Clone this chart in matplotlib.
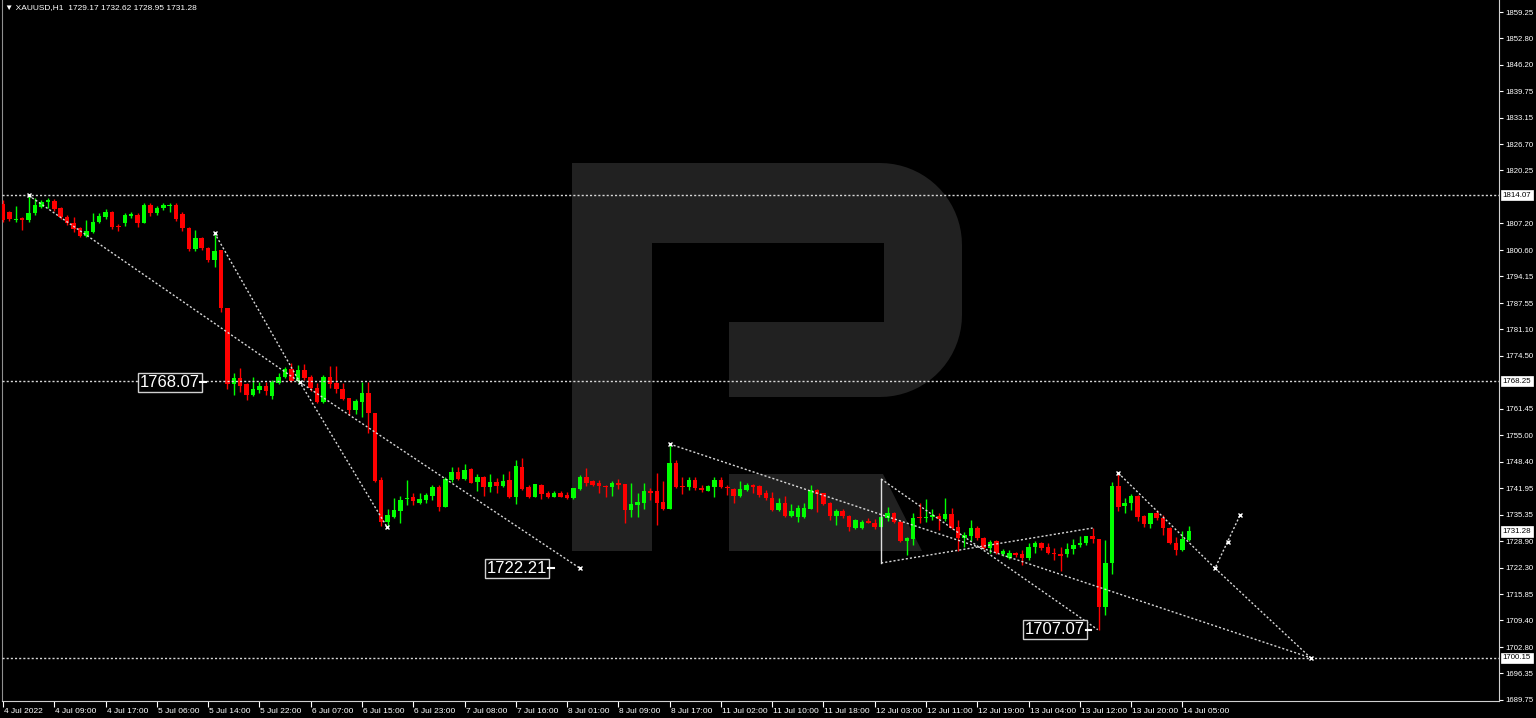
import matplotlib
matplotlib.use("Agg")
import matplotlib.pyplot as plt
import matplotlib.transforms as mtransforms
from matplotlib.patches import Polygon
import numpy as np

plt.rcParams['font.family'] = ['Liberation Sans', 'DejaVu Sans']

# XAUUSD H1 candles, 4 Jul 2022 01:00 .. 14 Jul 2022 07:00
opens = [
    1811.95, 1809.98, 1808.01, 1808.50, 1808.01, 1809.74, 1811.22, 1812.45, 1812.69, 1810.97,
    1808.75, 1807.27, 1806.04, 1804.07, 1805.06, 1807.52, 1808.75, 1809.98, 1806.53, 1807.27,
    1809.00, 1809.25, 1807.27, 1811.71, 1809.74, 1810.97, 1811.46, 1811.71, 1809.49, 1806.04,
    1800.86, 1803.57, 1801.11, 1798.16, 1800.62, 1786.33, 1767.60, 1769.08, 1767.60, 1764.89,
    1766.12, 1767.11, 1764.64, 1767.85, 1769.33, 1771.30, 1768.34, 1771.05, 1769.33, 1766.62,
    1763.17, 1769.33, 1767.85, 1766.37, 1764.15, 1761.20, 1763.17, 1765.38, 1760.46, 1743.95,
    1733.60, 1734.84, 1736.31, 1739.27, 1739.76, 1738.28, 1739.02, 1740.00, 1742.22, 1737.30,
    1743.95, 1745.92, 1744.19, 1746.66, 1743.46, 1744.69, 1742.22, 1743.46, 1742.47, 1743.95,
    1739.76, 1747.15, 1742.22, 1739.76, 1742.71, 1740.74, 1739.76, 1740.74, 1740.25, 1739.51,
    1741.73, 1744.69, 1743.70, 1743.21, 1742.47, 1742.22, 1743.21, 1742.96, 1736.56, 1737.79,
    1738.28, 1741.24, 1741.24, 1738.53, 1736.80, 1748.14, 1742.47, 1742.22, 1743.95, 1741.97,
    1741.24, 1742.22, 1743.95, 1742.22, 1741.73, 1740.00, 1741.48, 1742.71, 1742.47, 1740.74,
    1739.51, 1736.56, 1738.28, 1735.08, 1734.84, 1734.84, 1736.80, 1741.48, 1740.74, 1738.28,
    1735.08, 1736.31, 1735.08, 1732.12, 1732.12, 1733.84, 1733.35, 1732.37, 1734.59, 1735.82,
    1733.60, 1728.92, 1729.41, 1734.84, 1734.59, 1734.84, 1735.08, 1734.34, 1735.57, 1732.37,
    1729.66, 1730.15, 1732.12, 1729.66, 1727.19, 1728.92, 1725.72, 1724.73, 1725.96, 1725.72,
    1724.73, 1727.44, 1728.42, 1727.44, 1725.96, 1725.72, 1725.72, 1726.95, 1727.93, 1728.42,
    1730.15, 1729.41, 1712.66, 1723.50, 1742.47, 1737.54, 1738.28, 1740.00, 1735.08, 1733.11,
    1735.82, 1734.59, 1732.12, 1728.42, 1726.70, 1729.17,
]
highs = [
    1812.94, 1810.23, 1811.46, 1808.75, 1814.07, 1813.43, 1812.94, 1813.43, 1813.18, 1811.22,
    1809.25, 1808.75, 1806.29, 1808.01, 1809.74, 1809.74, 1810.72, 1810.23, 1807.02, 1809.74,
    1809.98, 1809.74, 1812.20, 1812.20, 1811.46, 1812.20, 1812.20, 1812.20, 1809.98, 1806.29,
    1805.55, 1803.82, 1801.36, 1804.81, 1800.62, 1786.33, 1770.31, 1771.54, 1767.85, 1769.33,
    1768.10, 1768.10, 1768.59, 1770.31, 1771.79, 1772.78, 1772.28, 1772.53, 1769.82, 1767.85,
    1769.82, 1772.04, 1772.04, 1767.85, 1764.15, 1763.91, 1768.10, 1768.10, 1760.46, 1744.69,
    1736.80, 1739.51, 1740.00, 1743.95, 1740.74, 1740.74, 1740.74, 1742.71, 1742.71, 1744.69,
    1747.15, 1747.15, 1747.89, 1746.90, 1745.43, 1744.94, 1745.43, 1744.44, 1745.43, 1746.17,
    1748.88, 1749.37, 1742.71, 1742.96, 1742.96, 1741.24, 1741.24, 1741.24, 1740.99, 1741.97,
    1745.18, 1746.90, 1743.95, 1743.95, 1742.71, 1743.70, 1744.19, 1742.96, 1743.21, 1740.74,
    1743.21, 1741.97, 1745.67, 1743.70, 1752.82, 1748.88, 1744.69, 1744.69, 1744.69, 1742.71,
    1742.71, 1744.69, 1744.69, 1742.71, 1741.97, 1743.70, 1743.21, 1742.96, 1742.71, 1741.48,
    1740.99, 1739.51, 1740.00, 1738.03, 1737.79, 1738.28, 1742.71, 1741.73, 1740.74, 1738.53,
    1736.80, 1736.80, 1735.33, 1734.34, 1734.09, 1734.59, 1734.34, 1735.08, 1737.30, 1736.07,
    1734.09, 1729.90, 1735.82, 1738.28, 1739.27, 1736.80, 1735.82, 1739.51, 1737.05, 1734.09,
    1731.14, 1734.09, 1732.62, 1729.90, 1729.16, 1729.16, 1726.95, 1726.70, 1726.21, 1726.70,
    1728.42, 1728.92, 1728.67, 1728.42, 1727.19, 1727.44, 1728.42, 1729.41, 1730.15, 1730.15,
    1732.12, 1729.41, 1729.16, 1743.46, 1745.67, 1739.51, 1740.50, 1740.25, 1735.33, 1735.82,
    1736.56, 1735.33, 1732.37, 1729.90, 1731.38, 1732.62,
]
lows = [
    1807.52, 1807.77, 1807.52, 1805.55, 1807.52, 1809.25, 1810.97, 1810.97, 1810.23, 1808.26,
    1806.78, 1805.06, 1803.82, 1803.82, 1804.81, 1807.27, 1808.26, 1805.79, 1805.30, 1806.53,
    1808.50, 1806.29, 1807.27, 1809.00, 1809.25, 1810.48, 1809.98, 1807.77, 1805.30, 1800.38,
    1800.38, 1800.62, 1797.67, 1796.44, 1785.35, 1766.37, 1764.89, 1765.63, 1763.66, 1764.64,
    1765.38, 1764.89, 1763.91, 1767.60, 1769.08, 1768.10, 1768.10, 1768.59, 1765.88, 1762.92,
    1762.92, 1766.62, 1765.38, 1763.66, 1759.97, 1760.21, 1759.47, 1755.53, 1743.46, 1732.62,
    1732.37, 1734.59, 1733.35, 1737.79, 1737.79, 1738.03, 1738.28, 1739.02, 1736.31, 1737.30,
    1743.46, 1743.95, 1743.95, 1743.21, 1741.24, 1740.00, 1740.99, 1740.74, 1742.22, 1739.51,
    1738.03, 1741.48, 1739.51, 1739.76, 1739.27, 1739.51, 1739.76, 1739.76, 1739.27, 1739.27,
    1741.48, 1742.47, 1742.47, 1740.74, 1739.76, 1740.00, 1741.73, 1733.35, 1734.84, 1734.84,
    1736.80, 1739.02, 1732.86, 1736.56, 1736.80, 1741.97, 1740.50, 1741.48, 1741.48, 1740.99,
    1741.24, 1739.76, 1741.97, 1740.25, 1738.28, 1739.76, 1741.24, 1740.74, 1739.76, 1739.02,
    1736.31, 1736.31, 1734.84, 1734.84, 1733.60, 1734.59, 1736.80, 1736.07, 1737.79, 1734.09,
    1732.86, 1734.59, 1731.38, 1731.87, 1731.87, 1733.35, 1731.87, 1732.37, 1733.84, 1733.35,
    1728.67, 1725.47, 1727.93, 1733.35, 1733.60, 1734.09, 1731.63, 1733.84, 1731.87, 1726.45,
    1727.44, 1728.92, 1729.16, 1726.95, 1725.96, 1725.72, 1725.23, 1724.48, 1724.98, 1723.01,
    1724.24, 1725.96, 1726.70, 1725.72, 1724.24, 1721.52, 1724.98, 1725.72, 1727.44, 1727.93,
    1728.42, 1707.07, 1710.69, 1720.79, 1736.31, 1735.82, 1736.56, 1733.84, 1732.37, 1732.12,
    1734.09, 1730.40, 1728.18, 1725.47, 1726.45, 1728.95,
]
closes = [
    1808.01, 1808.26, 1808.26, 1808.01, 1809.74, 1811.71, 1812.45, 1812.94, 1810.72, 1808.75,
    1807.27, 1805.79, 1804.07, 1805.30, 1807.52, 1809.00, 1809.98, 1806.29, 1806.29, 1809.25,
    1809.49, 1807.27, 1811.71, 1809.74, 1810.97, 1811.71, 1811.71, 1808.26, 1806.04, 1800.86,
    1803.57, 1801.11, 1798.16, 1800.38, 1786.33, 1767.60, 1769.08, 1767.11, 1764.89, 1766.37,
    1767.11, 1765.88, 1768.10, 1769.33, 1771.30, 1768.34, 1771.05, 1769.08, 1766.62, 1763.17,
    1769.33, 1767.60, 1766.37, 1763.91, 1761.20, 1763.42, 1765.38, 1760.46, 1743.70, 1733.60,
    1735.33, 1736.56, 1739.02, 1739.51, 1738.77, 1739.27, 1740.25, 1742.22, 1737.30, 1744.19,
    1745.92, 1744.19, 1746.41, 1743.21, 1744.69, 1742.22, 1743.46, 1742.47, 1743.70, 1739.76,
    1747.40, 1741.73, 1739.76, 1742.96, 1740.50, 1739.76, 1740.74, 1739.76, 1739.51, 1741.97,
    1744.69, 1743.21, 1742.71, 1742.47, 1742.22, 1743.21, 1742.71, 1736.56, 1738.03, 1738.53,
    1741.24, 1740.74, 1738.28, 1736.80, 1748.14, 1742.22, 1742.22, 1743.95, 1741.97, 1741.48,
    1742.47, 1743.95, 1742.22, 1741.97, 1740.00, 1741.73, 1742.71, 1742.22, 1740.25, 1739.51,
    1736.56, 1738.28, 1735.08, 1736.31, 1737.05, 1737.05, 1741.48, 1740.50, 1738.03, 1735.08,
    1736.31, 1735.08, 1732.37, 1734.09, 1733.60, 1733.35, 1732.37, 1734.84, 1735.82, 1733.60,
    1728.92, 1729.66, 1734.59, 1734.59, 1734.84, 1735.33, 1734.34, 1735.57, 1732.12, 1729.66,
    1730.40, 1732.12, 1729.66, 1727.19, 1728.67, 1725.96, 1726.45, 1725.96, 1725.47, 1724.73,
    1727.44, 1728.42, 1727.19, 1725.96, 1725.72, 1725.23, 1726.95, 1727.93, 1728.42, 1730.15,
    1729.41, 1712.66, 1723.50, 1742.47, 1737.30, 1738.28, 1740.00, 1734.84, 1733.11, 1735.82,
    1734.59, 1732.12, 1728.42, 1726.70, 1729.41, 1731.28,
]

time_labels = ['4 Jul 2022', '4 Jul 09:00', '4 Jul 17:00', '5 Jul 06:00', '5 Jul 14:00',
               '5 Jul 22:00', '6 Jul 07:00', '6 Jul 15:00', '6 Jul 23:00', '7 Jul 08:00',
               '7 Jul 16:00', '8 Jul 01:00', '8 Jul 09:00', '8 Jul 17:00', '11 Jul 02:00',
               '11 Jul 10:00', '11 Jul 18:00', '12 Jul 03:00', '12 Jul 11:00', '12 Jul 19:00',
               '13 Jul 04:00', '13 Jul 12:00', '13 Jul 20:00', '14 Jul 05:00']
price_ticks = [1859.25, 1852.80, 1846.20, 1839.75, 1833.15, 1826.70, 1820.25, 1807.20,
               1800.60, 1794.15, 1787.55, 1781.10, 1774.50, 1761.45, 1755.00, 1748.40,
               1741.95, 1735.35, 1728.90, 1722.30, 1715.85, 1709.40, 1702.80, 1696.35, 1689.75]
level_lines = [1814.07, 1768.25, 1700.15]
last_price = 1731.28

# analysis drawings: (bar, price)
trend_main = [(4, 1814.07), (46.3, 1768.07), (90, 1722.21)]
wave_drop = [(33, 1804.81), (46.3, 1768.07), (59.9, 1732.40)]
trend_mid = [(104, 1752.82), (204, 1700.15)]
tri_top = [(137, 1744.19), (170.8, 1707.07)]
tri_bottom = [(137, 1723.50), (170.0, 1732.12)]
forecast = [(174, 1745.67), (189.1, 1722.21), (193.0, 1735.30)]
forecast_alt = [(189.1, 1722.21), (204, 1700.15)]
price_boxes = [(30.7, 1768.07, '1768.07'), (84.9, 1722.21, '1722.21'), (168.8, 1707.07, '1707.07')]

W, H = 1536, 718
fig = plt.figure(figsize=(W / 100, H / 100), dpi=100, facecolor='black')
ax = fig.add_axes([2 / W, (H - 701) / H, 1497 / W, 701 / H])
ax.set_facecolor('black')

# watermark logo, in pixels from top-left of the picture
def px(pts):
    return [(x / W, 1 - y / H) for x, y in pts]

logo = '#212121'
t = np.linspace(0, np.pi / 2, 20)
bowl = [(572, 163), (880, 163)]
bowl += [(880 + 82 * np.sin(a), 245 - 82 * np.cos(a)) for a in t]
bowl += [(962, 315)]
bowl += [(880 + 82 * np.cos(a), 315 + 82 * np.sin(a)) for a in t]
bowl += [(729, 397), (729, 322), (884, 322), (884, 243), (652, 243), (652, 163)]
shapes = [
    [(572, 163), (652, 163), (652, 551), (572, 551)],
    bowl,
    [(729, 474), (883, 474), (922, 551), (729, 551)],
]
for s in shapes:
    ax.add_patch(Polygon(px(s), closed=True, fc=logo, ec='none', transform=fig.transFigure,
                         zorder=1, clip_on=False))

# candles
idx = np.arange(len(closes))
o = np.array(opens)
c = np.array(closes)
up = c >= o
cols = np.where(up, '#00ff00', '#ff0000')
ax.vlines(idx, lows, highs, colors=cols, lw=1, zorder=3)
ax.bar(idx, np.maximum(np.abs(c - o), 0.3), bottom=np.minimum(o, c), width=0.7,
       color=cols, linewidth=0, zorder=4)

dot = dict(color='#d8d8d8', lw=1.0, ls=(0, (1.5, 1.5)), zorder=5)
for lv in level_lines:
    ax.axhline(lv, **dot)
for path in [trend_main, wave_drop, trend_mid, tri_top, tri_bottom, forecast, forecast_alt]:
    xs, ys = zip(*path)
    ax.plot(xs, ys, **dot)
ax.plot([tri_top[0][0], tri_bottom[0][0]], [tri_top[0][1], tri_bottom[0][1]],
        color='#e0e0e0', lw=1, zorder=5)
marks = [trend_main[0], wave_drop[0], trend_main[1], wave_drop[2], trend_main[2], trend_mid[0],
         forecast[0], forecast[1], forecast[2], forecast_alt[1], (191.1, 1728.67)]
ax.plot([m[0] for m in marks], [m[1] for m in marks], ls='none', marker='x', ms=3, mew=1,
        color='white', zorder=6)

for bx, bp, txt in price_boxes:
    ax.text(bx, bp, txt, ha='right', va='center', color='white', fontsize=12, zorder=7,
            bbox=dict(boxstyle='square,pad=0.12', fc='black', ec='#d0d0d0', lw=1))
    ax.plot([bx + 0.1, bx + 1.0], [bp, bp], color='white', lw=1.5, zorder=7)

ax.set_xlim(-0.16, 233.4)
ax.set_ylim(1689.50, 1862.21)

ax.yaxis.tick_right()
ax.set_yticks(price_ticks)
ax.set_yticklabels([f'{v:.2f}' for v in price_ticks])
ax.tick_params(axis='y', colors='white', labelsize=5.6, length=3, pad=1.5, width=0.8)
ax.set_xticks(np.arange(len(time_labels)) * 8)
ax.set_xticklabels(time_labels)
ax.tick_params(axis='x', colors='white', labelsize=6.0, length=4, pad=1, width=0.8)
for lab in ax.get_xticklabels():
    lab.set_ha('left')
    lab.set_transform(lab.get_transform() + mtransforms.ScaledTranslation(1 / 100, 0, fig.dpi_scale_trans))

ax.spines['top'].set_visible(False)
ax.spines['left'].set_color('#909090')
ax.spines['bottom'].set_color('#d0d0d0')
ax.spines['right'].set_color('#d0d0d0')

trans = mtransforms.blended_transform_factory(ax.transAxes, ax.transData)
for lv in level_lines + [last_price]:
    ax.text(1.0025, lv, f'{lv:.2f}', transform=trans, ha='left', va='center', fontsize=5.7,
            color='black', zorder=8, clip_on=False,
            bbox=dict(boxstyle='square,pad=0.2', fc='white', ec='white', lw=0.5))

fig.text(5 / W, 1 - 8 / H, '\u25bc XAUUSD,H1  1729.17 1732.62 1728.95 1731.28', color='white',
         fontsize=6.0, va='center', ha='left')

fig.savefig('out.png', dpi=100, facecolor='black')
